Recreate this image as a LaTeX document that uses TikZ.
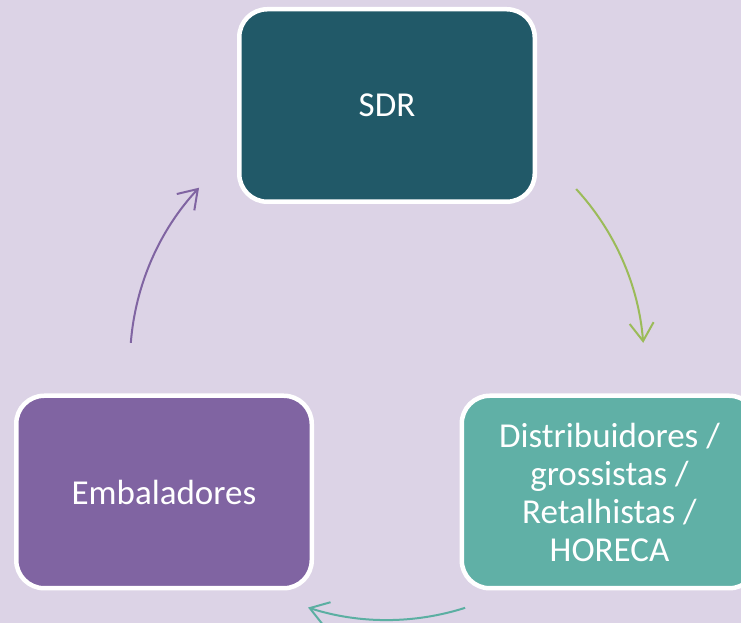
\documentclass[tikz,border=0pt]{standalone}
\usepackage{fontspec}
\setmainfont{Carlito}
\usetikzlibrary{arrows.meta}
\definecolor{bg}{HTML}{DCD3E6}
\definecolor{sdrcol}{HTML}{215968}
\definecolor{distcol}{HTML}{60B0A6}
\definecolor{embcol}{HTML}{8064A2}
\definecolor{greencol}{HTML}{9BBB59}
\definecolor{tealcol}{HTML}{5BAFA2}
\begin{document}
\begin{tikzpicture}[x=1pt,y=1pt,
  box/.style={draw=white, line width=4.5pt, rounded corners=28pt,
    minimum width=295.5pt, minimum height=192.5pt, text=white,
    font=\fontsize{35}{38}\selectfont, align=center, inner sep=0pt},
  cyc/.style={line width=2pt, -{Straight Barb[length=18pt,width=24pt]}}]
\fill[bg] (0,0) rectangle (741,623);
\useasboundingbox (0,0) rectangle (741,623);
\clip (0,0) rectangle (741,623);
\node[box, fill=sdrcol] (sdr) at (387,517.5) {SDR};
\node[box, fill=distcol] (dist) at (609.5,131) {Distribuidores /\\grossistas /\\Retalhistas /\\HORECA};
\node[box, fill=embcol] (emb) at (164,131) {Embaladores};
\coordinate (c) at (387,260);
\coordinate (gstart) at ([shift={(42.6:257)}]c);
\coordinate (tstart) at ([shift={(-72.3:257)}]c);
\coordinate (pstart) at ([shift={(175.5:257)}]c);
\draw[cyc, greencol] (gstart) arc[start angle=42.6, end angle=4.5, radius=257];
\draw[cyc, tealcol] (tstart) arc[start angle=-72.3, end angle=-107.9, radius=257];
\draw[cyc, embcol] (pstart) arc[start angle=175.5, end angle=137, radius=257];
\end{tikzpicture}
\end{document}
